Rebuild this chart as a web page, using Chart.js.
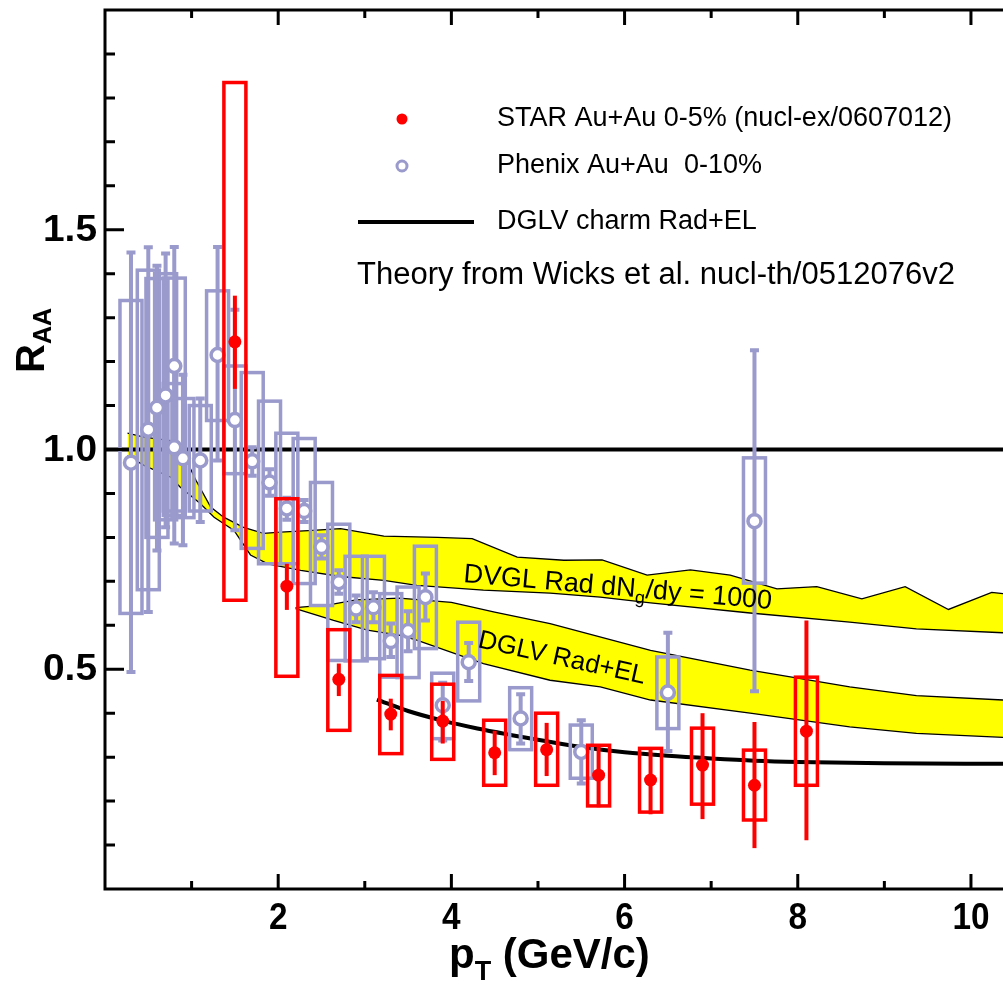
<!DOCTYPE html>
<html>
<head>
<meta charset="utf-8">
<script src="https://cdn.jsdelivr.net/npm/chart.js@4.4.1/dist/chart.umd.min.js"></script>
<style>
  html, body { margin: 0; padding: 0; background: #fff; }
  #wrap { width: 1003px; height: 990px; }
</style>
</head>
<body>
<div id="wrap"><canvas id="raa" width="1003" height="990"></canvas></div>
<script>
// STAR Au+Au 0-5% (nucl-ex/0607012)
const starPt     = [1.5, 2.1, 2.7, 3.3, 3.9, 4.5, 5.1, 5.7, 6.3, 6.9, 7.5, 8.1];
const starRaa    = [1.245, 0.689, 0.477, 0.398, 0.382, 0.31, 0.317, 0.259, 0.248, 0.282, 0.236, 0.359];
const starStatLo = [1.138, 0.635, 0.439, 0.361, 0.331, 0.259, 0.257, 0.186, 0.17, 0.159, 0.093, 0.111];
const starStatHi = [1.35, 0.74, 0.513, 0.433, 0.428, 0.36, 0.378, 0.325, 0.323, 0.40, 0.38, 0.611];
const starSysLo  = [0.657, 0.484, 0.361, 0.308, 0.295, 0.236, 0.236, 0.189, 0.175, 0.193, 0.157, 0.236];
const starSysHi  = [1.835, 0.888, 0.59, 0.486, 0.466, 0.384, 0.40, 0.327, 0.32, 0.366, 0.316, 0.482];

// Phenix Au+Au 0-10%
const phxPt     = [0.3, 0.5, 0.6, 0.7, 0.8, 0.8, 0.9, 1.1, 1.3, 1.5, 1.7, 1.9, 2.1, 2.3, 2.5, 2.7, 2.9, 3.1, 3.3, 3.5, 3.7, 3.9, 4.2, 4.8, 5.5, 6.5, 7.5];
const phxRaa    = [0.97, 1.045, 1.095, 1.123, 1.19, 1.005, 0.98, 0.975, 1.215, 1.067, 0.973, 0.925, 0.866, 0.86, 0.778, 0.698, 0.638, 0.641, 0.564, 0.587, 0.664, 0.418, 0.516, 0.388, 0.312, 0.447, 0.837];
const phxStatLo = [0.494, 0.63, 0.77, 0.823, 0.85, 0.786, 0.782, 0.835, 0.975, 0.816, 0.94, 0.895, 0.84, 0.835, 0.752, 0.672, 0.607, 0.607, 0.528, 0.541, 0.611, 0.338, 0.473, 0.331, 0.24, 0.314, 0.45];
const phxStatHi = [1.448, 1.46, 1.418, 1.446, 1.461, 1.19, 1.17, 1.116, 1.461, 1.318, 1.005, 0.955, 0.89, 0.885, 0.805, 0.725, 0.668, 0.675, 0.604, 0.632, 0.718, 0.469, 0.56, 0.443, 0.384, 0.583, 1.226];
const phxSysLo  = [0.627, 0.681, 0.80, 0.84, 0.86, 0.85, 0.845, 0.86, 1.066, 0.945, 0.775, 0.74, 0.74, 0.695, 0.645, 0.52, 0.519, 0.524, 0.482, 0.481, 0.547, 0.342, 0.428, 0.317, 0.252, 0.365, 0.696];
const phxSysHi  = [1.339, 1.408, 1.389, 1.40, 1.39, 1.15, 1.116, 1.10, 1.361, 1.19, 1.175, 1.11, 1.037, 1.025, 0.925, 0.83, 0.757, 0.757, 0.672, 0.687, 0.78, 0.491, 0.607, 0.458, 0.373, 0.528, 0.981];

// DVGL Rad dNg/dy = 1000 band
const radTopPt  = [0.26, 0.45, 0.76, 0.87, 1.05, 1.22, 1.37, 1.6, 1.83, 2.03, 2.4, 2.72, 3.22, 3.84, 4.24, 4.76, 5.3, 5.74, 6.26, 6.76, 7.22, 7.76, 8.22, 8.74, 9.24, 9.74, 10.24, 10.37];
const radTopRaa = [1.037, 1.028, 1.02, 1.005, 0.93, 0.869, 0.846, 0.823, 0.809, 0.812, 0.816, 0.82, 0.803, 0.80, 0.797, 0.755, 0.748, 0.749, 0.714, 0.726, 0.714, 0.683, 0.688, 0.66, 0.688, 0.636, 0.675, 0.672];
const radLowPt  = [0.26, 0.45, 0.76, 0.87, 1.1, 1.26, 1.49, 1.68, 1.88, 2.26, 2.72, 3.22, 3.6, 4.37, 5.14, 5.72, 6.3, 7.45, 8.6, 9.37, 10.37];
const radLowRaa = [0.986, 0.964, 0.937, 0.914, 0.877, 0.846, 0.816, 0.76, 0.74, 0.725, 0.711, 0.702, 0.691, 0.68, 0.673, 0.664, 0.651, 0.628, 0.607, 0.592, 0.583];

// DGLV Rad+EL band
const elTopPt  = [2.2, 2.6, 2.9, 3.4, 4.0, 4.5, 5.14, 6.3, 7.45, 8.6, 9.37, 10.37];
const elTopRaa = [0.64, 0.647, 0.658, 0.662, 0.652, 0.63, 0.604, 0.543, 0.498, 0.46, 0.44, 0.43];
const elLowPt  = [2.2, 2.64, 3.03, 3.41, 3.6, 4.37, 5.14, 5.72, 6.3, 7.45, 8.6, 9.37, 10.37];
const elLowRaa = [0.638, 0.611, 0.589, 0.577, 0.566, 0.513, 0.475, 0.46, 0.43, 0.40, 0.369, 0.354, 0.345];

// DGLV charm Rad+EL
const charmPt  = [3.14, 3.5, 3.9, 4.3, 4.7, 5.1, 5.5, 6.0, 6.5, 7.0, 7.5, 8.0, 9.0, 10.37];
const charmRaa = [0.431, 0.405, 0.383, 0.365, 0.35, 0.336, 0.323, 0.311, 0.303, 0.297, 0.292, 0.289, 0.286, 0.285];

// axes
const xMin = 0, xMax = 10.37, yMin = 0, yMax = 2.0;
const xTickValues = [2, 4, 6, 8, 10];
const xTickLabels = ['2', '4', '6', '8', '10'];
const yTickValues = [0.5, 1.0, 1.5];
const yTickLabels = ['0.5', '1.0', '1.5'];

const RED = '#ff0000';
const LAV = '#9a9acc';
const FONT = "'Liberation Sans', Arial, Helvetica, sans-serif";
const BOX_HALF = 0.127;

function toXY(xs, ys) {
    return xs.map((v, i) => ({ x: v, y: ys[i] }));
}

// 系统误差框 + 统计误差棒, drawn just before the point dataset
const errorBoxes = {
    id: 'errorBoxes',
    beforeDatasetDraw(chart, args) {
        const ds = chart.data.datasets[args.index];
        if (!ds.sysLo) return;
        const { ctx, chartArea: a, scales: { x, y } } = chart;
        ctx.save();
        ctx.beginPath();
        ctx.rect(a.left, a.top, a.right - a.left, a.bottom - a.top);
        ctx.clip();
        ctx.strokeStyle = ds.errColor;
        ctx.lineWidth = 3.5;
        ds.pts.forEach((pt, i) => {
            const l = x.getPixelForValue(pt - BOX_HALF);
            const r = x.getPixelForValue(pt + BOX_HALF);
            const t = y.getPixelForValue(ds.sysHi[i]);
            const b = y.getPixelForValue(ds.sysLo[i]);
            ctx.strokeRect(l, t, r - l, b - t);
        });
        ctx.lineWidth = 4;
        ds.pts.forEach((pt, i) => {
            const px = x.getPixelForValue(pt);
            const t = y.getPixelForValue(ds.statHi[i]);
            const b = y.getPixelForValue(ds.statLo[i]);
            ctx.beginPath();
            ctx.moveTo(px, t);
            ctx.lineTo(px, b);
            if (ds.caps) {
                ctx.moveTo(px - 4.5, t); ctx.lineTo(px + 4.5, t);
                ctx.moveTo(px - 4.5, b); ctx.lineTo(px + 4.5, b);
            }
            ctx.stroke();
        });
        ctx.restore();
    }
};

function drawSub(ctx, parts, x, y) {
    // parts: [text, font, dy]
    let cx = x;
    parts.forEach(([txt, font, dy]) => {
        ctx.font = font;
        ctx.fillText(txt, cx, y + dy);
        cx += ctx.measureText(txt).width;
    });
}

// 坐标框、刻度、标签、图例
const frame = {
    id: 'frame',
    afterDraw(chart) {
        const { ctx, chartArea: a, scales: { x, y } } = chart;
        ctx.save();
        ctx.strokeStyle = '#000';
        ctx.lineWidth = 3;
        ctx.beginPath();
        ctx.moveTo(a.right + 2, a.top);
        ctx.lineTo(a.left, a.top);
        ctx.lineTo(a.left, a.bottom);
        ctx.lineTo(a.right + 2, a.bottom);
        for (let v = 1; v <= 10; v++) {
            const px = x.getPixelForValue(v);
            const len = v % 2 === 0 ? 15 : 8;
            ctx.moveTo(px, a.bottom); ctx.lineTo(px, a.bottom - len);
            ctx.moveTo(px, a.top); ctx.lineTo(px, a.top + len);
        }
        for (let k = 1; k < 20; k++) {
            const py = y.getPixelForValue(k / 10);
            const len = k % 5 === 0 ? 19 : 10;
            ctx.moveTo(a.left, py); ctx.lineTo(a.left + len, py);
        }
        ctx.stroke();

        // tick labels
        ctx.fillStyle = '#000';
        ctx.textBaseline = 'middle';
        ctx.font = 'bold 37px ' + FONT;
        ctx.textAlign = 'center';
        xTickValues.forEach((v, i) => {
            const px = x.getPixelForValue(v);
            ctx.save();
            ctx.translate(px, a.bottom + 30);
            ctx.scale(0.9, 1);
            ctx.fillText(xTickLabels[i], 0, 0);
            ctx.restore();
        });
        ctx.textAlign = 'right';
        ctx.font = 'bold 37px ' + FONT;
        yTickValues.forEach((v, i) => {
            const py = y.getPixelForValue(v);
            ctx.save();
            ctx.translate(97, py + 1);
            ctx.scale(1.05, 1);
            ctx.fillText(yTickLabels[i], 0, 0);
            ctx.restore();
        });

        // axis titles
        ctx.textAlign = 'left';
        ctx.textBaseline = 'alphabetic';
        drawSub(ctx, [
            ['p', 'bold 42px ' + FONT, 0],
            ['T', 'bold 27px ' + FONT, 12],
            [' (GeV/c)', 'bold 42px ' + FONT, 0]
        ], 449, 968);
        ctx.save();
        ctx.translate(44, 373);
        ctx.rotate(-Math.PI / 2);
        drawSub(ctx, [
            ['R', 'bold 40px ' + FONT, 0],
            ['AA', 'bold 25px ' + FONT, 7]
        ], 0, 0);
        ctx.restore();

        // band labels
        ctx.save();
        ctx.translate(463, 582);
        ctx.rotate(5 * Math.PI / 180);
        drawSub(ctx, [
            ['DVGL Rad dN', '27px ' + FONT, 0],
            ['g', '18px ' + FONT, 6],
            ['/dy = 1000', '27px ' + FONT, 0]
        ], 0, 0);
        ctx.restore();
        ctx.save();
        ctx.translate(477, 647);
        ctx.rotate(12.5 * Math.PI / 180);
        ctx.font = '26px ' + FONT;
        ctx.fillText('DGLV Rad+EL', 0, 0);
        ctx.restore();

        // legend
        ctx.fillStyle = RED;
        ctx.beginPath();
        ctx.arc(402, 119, 5.5, 0, Math.PI * 2);
        ctx.fill();
        ctx.strokeStyle = LAV;
        ctx.fillStyle = '#fff';
        ctx.lineWidth = 3;
        ctx.beginPath();
        ctx.arc(402, 166, 5, 0, Math.PI * 2);
        ctx.fill();
        ctx.stroke();
        ctx.strokeStyle = '#000';
        ctx.lineWidth = 4;
        ctx.beginPath();
        ctx.moveTo(358, 222);
        ctx.lineTo(474, 222);
        ctx.stroke();
        ctx.fillStyle = '#000';
        ctx.textBaseline = 'middle';
        ctx.font = '27px ' + FONT;
        ctx.fillText('STAR Au+Au 0-5% (nucl-ex/0607012)', 497, 119);
        ctx.fillText('Phenix Au+Au  0-10%', 497, 166);
        ctx.fillText('DGLV charm Rad+EL', 497, 222);
        ctx.font = '31px ' + FONT;
        ctx.fillText('Theory from Wicks et al. nucl-th/0512076v2', 357, 275);
        ctx.restore();
    }
};

const bandStyle = {
    showLine: true,
    pointRadius: 0,
    borderColor: '#000',
    borderWidth: 1.3,
    backgroundColor: '#ffff00'
};

new Chart(document.getElementById('raa'), {
    type: 'scatter',
    data: {
        datasets: [{
            label: 'STAR Au+Au 0-5%',
            data: toXY(starPt, starRaa),
            pts: starPt, statLo: starStatLo, statHi: starStatHi, sysLo: starSysLo, sysHi: starSysHi,
            errColor: RED, caps: false,
            pointRadius: 6.5,
            pointBackgroundColor: RED,
            pointBorderWidth: 0,
            borderColor: RED,
            order: 1
        }, {
            label: 'Phenix Au+Au 0-10%',
            data: toXY(phxPt, phxRaa),
            pts: phxPt, statLo: phxStatLo, statHi: phxStatHi, sysLo: phxSysLo, sysHi: phxSysHi,
            errColor: LAV, caps: true,
            pointRadius: 6.5,
            pointBackgroundColor: '#fff',
            pointBorderColor: LAV,
            pointBorderWidth: 3.5,
            borderColor: LAV,
            order: 2
        }, {
            label: 'DGLV charm Rad+EL',
            data: toXY(charmPt, charmRaa),
            showLine: true,
            pointRadius: 0,
            borderColor: '#000',
            borderWidth: 4,
            cubicInterpolationMode: 'monotone',
            order: 3
        }, {
            label: 'unity',
            data: [{ x: xMin, y: 1 }, { x: xMax, y: 1 }],
            showLine: true,
            pointRadius: 0,
            borderColor: '#000',
            borderWidth: 4,
            order: 4
        }, {
            ...bandStyle, label: 'Rad+EL top', data: toXY(elTopPt, elTopRaa), fill: '+1', order: 5
        }, {
            ...bandStyle, label: 'Rad+EL low', data: toXY(elLowPt, elLowRaa), fill: false, order: 5
        }, {
            ...bandStyle, label: 'Rad top', data: toXY(radTopPt, radTopRaa), fill: '+1', order: 6
        }, {
            ...bandStyle, label: 'Rad low', data: toXY(radLowPt, radLowRaa), fill: false, order: 6
        }]
    },
    options: {
        responsive: false,
        animation: false,
        devicePixelRatio: 1,
        layout: { autoPadding: false, padding: { left: 105, right: 0, top: 10, bottom: 101 } },
        scales: {
            x: { type: 'linear', min: xMin, max: xMax, display: false },
            y: { type: 'linear', min: yMin, max: yMax, display: false }
        },
        plugins: {
            legend: { display: false },
            tooltip: { enabled: false },
            filler: { drawTime: 'beforeDatasetsDraw' }
        }
    },
    plugins: [errorBoxes, frame]
});
</script>
</body>
</html>
